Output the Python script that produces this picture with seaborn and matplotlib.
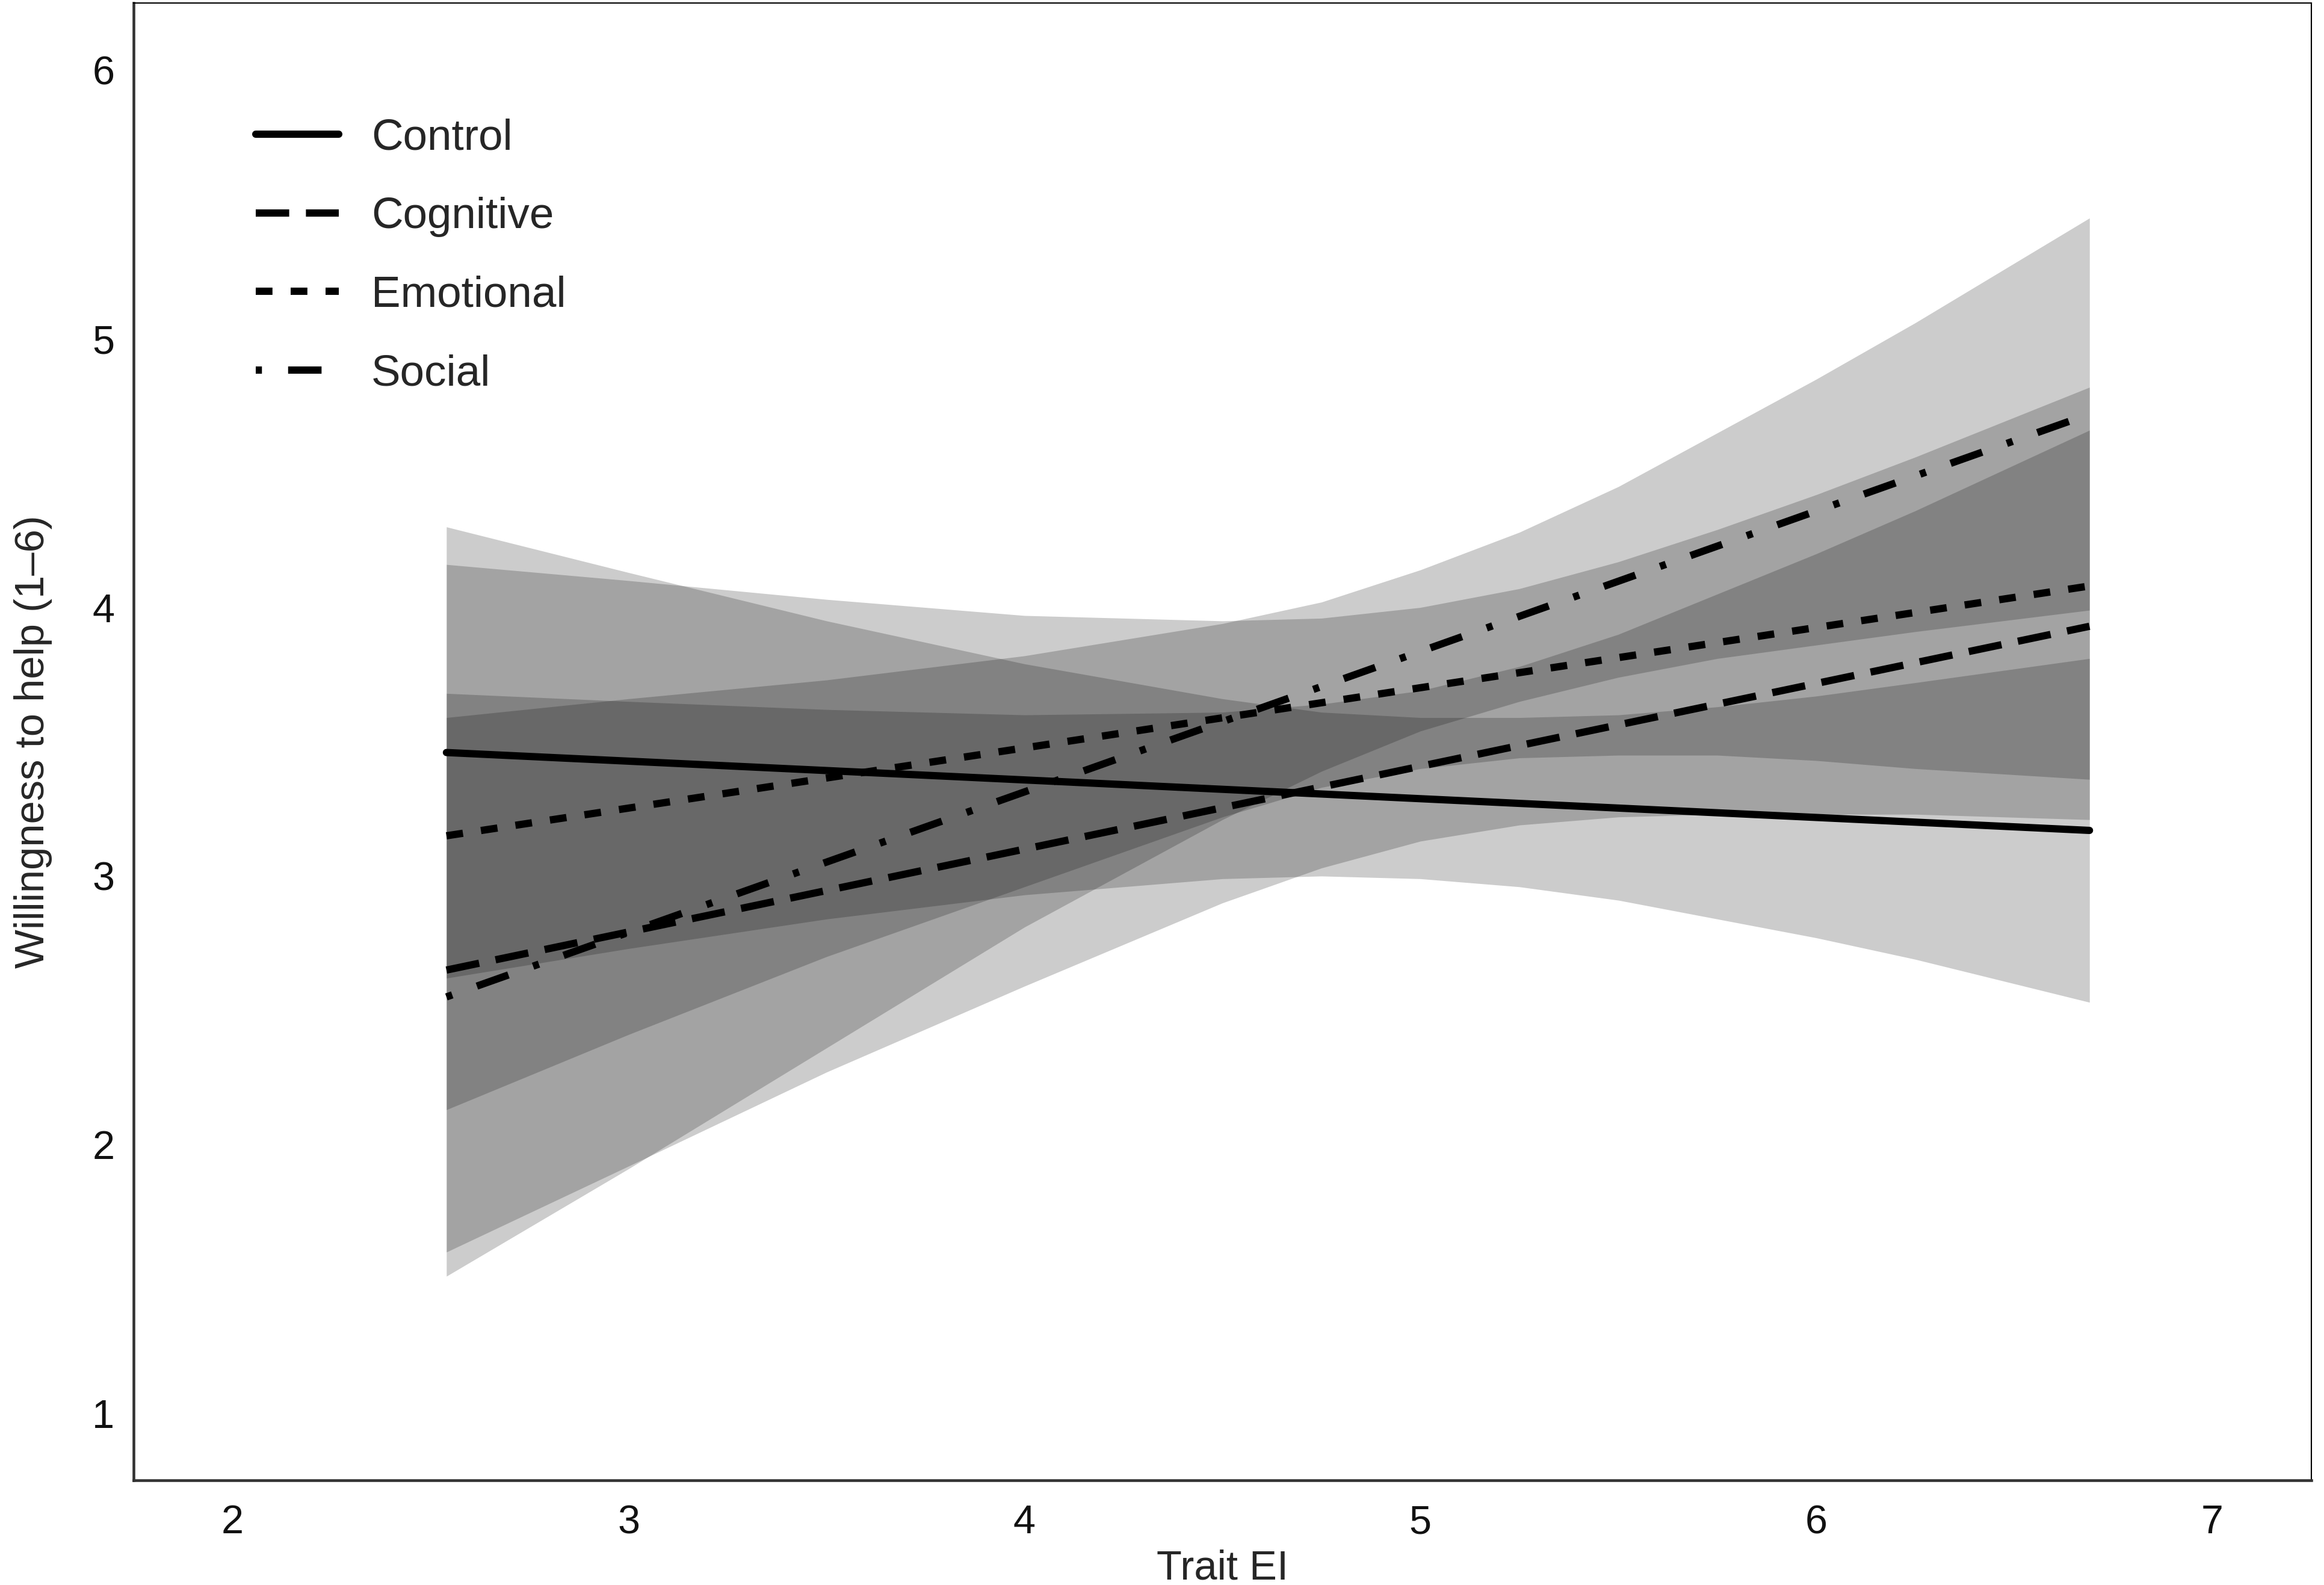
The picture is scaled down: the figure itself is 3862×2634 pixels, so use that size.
import pandas as pd
import matplotlib
matplotlib.use("Agg")
import matplotlib.pyplot as plt
from matplotlib.lines import Line2D
import seaborn as sns

# fitted lines (two ends of the Trait EI range)
trait_ends = [2.54, 6.69]
control_fit = [3.46, 3.17]
cognitive_fit = [2.65, 3.93]
emotional_fit = [3.15, 4.08]
social_fit = [2.55, 4.72]

# confidence bands
band_x = [2.54, 3.0, 3.5, 4.0, 4.5, 4.75, 5.0, 5.25, 5.5, 5.75, 6.0, 6.25, 6.69]
control_lo = [2.62, 2.73, 2.84, 2.93, 2.99, 3.00, 2.99, 2.96, 2.91, 2.84, 2.77, 2.69, 2.53]
control_hi = [4.30, 4.13, 3.95, 3.79, 3.66, 3.61, 3.59, 3.59, 3.60, 3.63, 3.67, 3.72, 3.81]
cognitive_lo = [1.60, 1.92, 2.27, 2.59, 2.90, 3.03, 3.13, 3.19, 3.22, 3.23, 3.23, 3.23, 3.21]
cognitive_hi = [3.68, 3.65, 3.62, 3.60, 3.61, 3.64, 3.69, 3.78, 3.90, 4.05, 4.20, 4.36, 4.66]
emotional_lo = [2.13, 2.41, 2.70, 2.96, 3.22, 3.33, 3.40, 3.44, 3.45, 3.45, 3.43, 3.40, 3.36]
emotional_hi = [4.16, 4.10, 4.03, 3.97, 3.95, 3.96, 4.00, 4.07, 4.17, 4.29, 4.42, 4.56, 4.82]
social_lo = [1.51, 1.91, 2.36, 2.81, 3.21, 3.39, 3.54, 3.65, 3.74, 3.81, 3.86, 3.91, 3.99]
social_hi = [3.59, 3.66, 3.73, 3.82, 3.94, 4.02, 4.14, 4.28, 4.45, 4.65, 4.85, 5.06, 5.45]

conditions = ["Control", "Cognitive", "Emotional", "Social"]

lines = pd.DataFrame({
    "Trait EI": trait_ends * 4,
    "Willingness": control_fit + cognitive_fit + emotional_fit + social_fit,
    "Condition": [c for c in conditions for _ in trait_ends],
})
bands = {
    "Control": (control_lo, control_hi),
    "Cognitive": (cognitive_lo, cognitive_hi),
    "Emotional": (emotional_lo, emotional_hi),
    "Social": (social_lo, social_hi),
}

lw = 2.9
dash_map = {
    "Control": "",
    "Cognitive": (4.6, 2.3),
    "Emotional": (2.3, 2.5),
    "Social": (0.85, 3.6, 4.6, 3.6),
}

sns.set_style("white")
plt.rcParams["font.family"] = ["Liberation Sans", "DejaVu Sans"]

fig = plt.figure(figsize=(3862 / 300, 2634 / 300), dpi=300)
ax = fig.add_axes([0.0575, 0.066, 0.937, 0.932])

for cond in conditions:
    lo, hi = bands[cond]
    ax.fill_between(band_x, lo, hi, color="black", alpha=0.2, linewidth=0)

sns.lineplot(data=lines, x="Trait EI", y="Willingness", style="Condition",
             style_order=conditions, dashes=dash_map, color="black",
             linewidth=lw, estimator=None, legend=False, ax=ax)

handles = []
for cond in conditions:
    h = Line2D([], [], color="black", linewidth=lw)
    if dash_map[cond]:
        h.set_dashes(dash_map[cond])
    handles.append(h)
ax.legend(handles, conditions, loc="upper left", bbox_to_anchor=(0.056, 0.922),
          frameon=False, fontsize=17.5, handlelength=1.9, handletextpad=0.74,
          labelspacing=0.87, borderpad=0, borderaxespad=0)

ax.set_xlim(1.75, 7.25)
ax.set_ylim(0.75, 6.25)
ax.set_xticks([2, 3, 4, 5, 6, 7])
ax.set_yticks([1, 2, 3, 4, 5, 6])
ax.set_xlabel("Trait EI", fontsize=16.5, labelpad=3)
ax.set_ylabel("Willingness to help (1\u20136)", fontsize=16.5, labelpad=16)
ax.tick_params(axis="both", which="major", length=3.6, width=0.8,
               color="#333333", labelsize=16, labelcolor="#111111")
ax.tick_params(axis="x", pad=6)
ax.tick_params(axis="y", pad=4)

for side in ["top", "right"]:
    ax.spines[side].set_linewidth(0.5)
    ax.spines[side].set_color("black")
for side in ["left", "bottom"]:
    ax.spines[side].set_linewidth(1.1)
    ax.spines[side].set_color("#333333")

fig.savefig("out.png", dpi=300)
